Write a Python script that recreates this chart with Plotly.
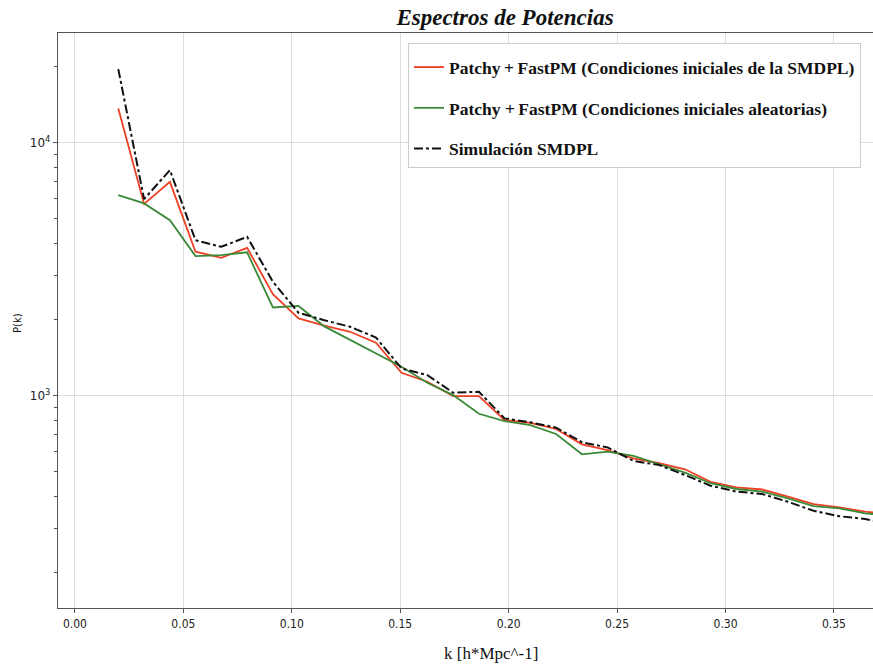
import plotly.graph_objects as go

k = [0.0200, 0.0319, 0.0438, 0.0556, 0.0675, 0.0794, 0.0913, 0.1031, 0.1150, 0.1269,
     0.1388, 0.1506, 0.1625, 0.1744, 0.1863, 0.1981, 0.2100, 0.2219, 0.2338, 0.2456,
     0.2575, 0.2694, 0.2813, 0.2931, 0.3050, 0.3169, 0.3288, 0.3406, 0.3525, 0.3644, 0.3763]

p_smdpl_ic = [13670, 5730, 7010, 3710, 3510, 3845, 2523, 2023, 1895, 1790,
              1620, 1233, 1136, 997, 997, 801, 782, 739, 643, 610,
              566, 541, 512, 457, 434, 426, 399, 373, 362, 348, 340]

p_random_ic = [6210, 5760, 4940, 3565, 3595, 3690, 2234, 2265, 1880, 1660,
               1465, 1302, 1126, 1006, 849, 794, 766, 706, 587, 601,
               578, 536, 497, 451, 428, 418, 393, 366, 359, 343, 336]

p_simulation = [19550, 5990, 7800, 4120, 3880, 4250, 2822, 2128, 1990, 1873,
                1700, 1283, 1207, 1028, 1037, 814, 785, 748, 655, 625,
                553, 532, 486, 441, 418, 409, 381, 351, 334, 326, 310]

names = ["Patchy\u2009+\u2009FastPM (Condiciones iniciales de la SMDPL)",
         "Patchy +\u2009FastPM (Condiciones iniciales aleatorias)",
         "Simulación SMDPL"]

x_ticks = [0.00, 0.05, 0.10, 0.15, 0.20, 0.25, 0.30, 0.35]
y_ticks = [1000, 10000]
y_ticktext = ["10<sup>3</sup>", "10<sup>4</sup>"]
y_minor = [200, 300, 400, 500, 600, 700, 800, 900,
           2000, 3000, 4000, 5000, 6000, 7000, 8000, 9000, 20000]

fig = go.Figure()
fig.add_trace(go.Scatter(x=k, y=p_smdpl_ic, mode="lines", name="<b>" + names[0] + "</b>",
                         legendgroup="a", line=dict(color="#ee4024", width=1.8)))
fig.add_trace(go.Scatter(x=k, y=p_random_ic, mode="lines", name="<b>" + names[1] + "</b>",
                         legendgroup="b", line=dict(color="#3a8a38", width=1.8)))
fig.add_trace(go.Scatter(x=k, y=p_simulation, mode="lines", name="<b>" + names[2] + "</b>",
                         legendgroup="c", line=dict(color="#111111", width=2, dash="dashdot")))

fig.update_layout(
    width=873, height=668,
    margin=dict(l=58, r=0, t=33, b=60),
    paper_bgcolor="white", plot_bgcolor="white",
    title=dict(text="<b><i>Espectros de Potencias</i></b>", x=(505) / 873, xanchor="center",
               y=1 - 17 / 668, yanchor="middle",
               font=dict(family="Liberation Serif", size=23, color="#111")),
    showlegend=True,
    legend=dict(x=(408 - 58) / 815, y=(608 - 43) / 575, xanchor="left", yanchor="top",
                bgcolor="white", bordercolor="#cccccc", borderwidth=1,
                font=dict(family="Liberation Serif", size=17.5, color="#111"),
                title=dict(text=" ", font=dict(size=4)),
                tracegroupgap=15, itemwidth=30),
    xaxis=dict(range=[-0.0078, 0.368], tickvals=x_ticks,
               ticktext=[f"{v:.2f}" for v in x_ticks],
               showgrid=True, gridcolor="#dddddd", gridwidth=1,
               zeroline=False, showline=True, linecolor="#555555", linewidth=1.3,
               mirror=True, ticks="outside", ticklen=4, tickcolor="#555555",
               tickfont=dict(family="DejaVu Sans Condensed, DejaVu Sans", size=12, color="#222")),
    yaxis=dict(type="log", range=[2.161, 4.434], tickvals=y_ticks, ticktext=y_ticktext,
               showgrid=True, gridcolor="#dddddd", gridwidth=1,
               zeroline=False, showline=True, linecolor="#555555", linewidth=1.3,
               ticks="outside", ticklen=4, tickcolor="#555555",
               tickfont=dict(family="DejaVu Sans", size=12, color="#222"),
               minor=dict(tickvals=y_minor, ticks="outside", ticklen=2.5,
                          tickcolor="#555555", showgrid=False)),
)

fig.add_annotation(text="k [h*Mpc^-1]", xref="paper", yref="paper",
                   x=(491 - 58) / 815, y=-(653 - 608) / 575, xanchor="center", yanchor="middle",
                   showarrow=False, font=dict(family="Liberation Serif", size=17, color="#111"))
fig.add_annotation(text="P(k)", xref="paper", yref="paper", textangle=-90,
                   x=-(58 - 17) / 815, y=(608 - 323) / 575, xanchor="center", yanchor="middle",
                   showarrow=False, font=dict(family="DejaVu Sans", size=10, color="#111"))

fig.write_html("out.html")
